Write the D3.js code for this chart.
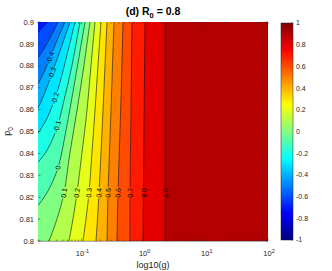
<!DOCTYPE html>
<html>
<head>
<meta charset="utf-8">
<script src="https://cdn.jsdelivr.net/npm/d3@7"></script>
<style>
  body { margin: 0; background: #fff; }
  svg { display: block; font-family: "Liberation Sans", Arial, sans-serif; }
</style>
</head>
<body>
<svg id="chart" width="332" height="271"></svg>
<script>
/*********************
	Data
**********************/
// contour levels of the filled plot (band colour = its lower level)
var levels = [-0.6, -0.5, -0.4, -0.3, -0.2, -0.1, 0, 0.1, 0.2, 0.3, 0.4, 0.5, 0.6, 0.7, 0.8, 0.9];
var lowestBand = -0.7;

// contour lines as [g, p0], from the top edge downward
var line_m06 = [[0.0290, 0.900], [0.0250, 0.8982], [0.0223, 0.8968], [0.0200, 0.8950]];
var line_m05 = [[0.0420, 0.900], [0.0336, 0.8945], [0.0269, 0.8894], [0.0200, 0.8835]];
var line_m04 = [[0.0544, 0.900], [0.0420, 0.8927], [0.0349, 0.8872], [0.0312, 0.8835], [0.0250, 0.8771], [0.0200, 0.8716]];
var line_m03 = [[0.0654, 0.900], [0.0486, 0.8894], [0.0390, 0.8817], [0.0336, 0.8766], [0.0259, 0.8679], [0.0200, 0.8606]];
var line_m02 = [[0.0787, 0.900], [0.0585, 0.8849], [0.0452, 0.8725], [0.0375, 0.8651], [0.0279, 0.8560], [0.0200, 0.8491]];
var line_m01 = [[0.0947, 0.900], [0.0705, 0.8803], [0.0524, 0.8642], [0.0404, 0.8518], [0.0290, 0.8422], [0.0200, 0.8358]];
var line_00  = [[0.1140, 0.900], [0.0787, 0.8734], [0.0564, 0.8505], [0.0420, 0.8335], [0.0290, 0.8229], [0.0200, 0.8161]];
var line_01  = [[0.1372, 0.900], [0.1098, 0.8803], [0.0848, 0.8596], [0.0654, 0.8404], [0.0524, 0.8220], [0.0404, 0.8101], [0.0301, 0.800]];
var line_02  = [[0.1651, 0.900], [0.1424, 0.8803], [0.1227, 0.8596], [0.1020, 0.8404], [0.0848, 0.8220], [0.0731, 0.8101], [0.0630, 0.800]];
var line_03  = [[0.2061, 0.900], [0.1845, 0.8803], [0.1651, 0.8596], [0.1477, 0.8404], [0.1322, 0.8220], [0.1183, 0.8101], [0.1059, 0.800]];
var line_04  = [[0.2574, 0.900], [0.2390, 0.8803], [0.2220, 0.8596], [0.2061, 0.8404], [0.1914, 0.8220], [0.1811, 0.8101], [0.1713, 0.800]];
var line_05  = [[0.3337, 0.900], [0.3155, 0.8803], [0.2985, 0.8596], [0.2823, 0.8404], [0.2671, 0.8220], [0.2574, 0.800]];
var line_06  = [[0.4656, 0.900], [0.4405, 0.8734], [0.4167, 0.8505], [0.3869, 0.8220], [0.3728, 0.800]];
var line_07  = [[0.6497, 0.900], [0.6262, 0.8596], [0.6035, 0.8220], [0.6035, 0.800]];
var line_08  = [[1.051, 0.900], [1.013, 0.8505], [0.976, 0.800]];
var line_09  = [[2.205, 0.900], [2.205, 0.800]];
var contourLines = [line_m06, line_m05, line_m04, line_m03, line_m02, line_m01, line_00,
                    line_01, line_02, line_03, line_04, line_05, line_06, line_07, line_08, line_09];

// inline contour labels
var labelLevels = [-0.4, -0.3, -0.2, -0.1, 0, 0.1, 0.2, 0.3, 0.4, 0.5, 0.6, 0.7, 0.8, 0.9];
var labelG = [0.0312, 0.0336, 0.0375, 0.0404, 0.0420, 0.0524, 0.0848, 0.1322, 0.1914, 0.2671, 0.3869, 0.6035, 1.013, 2.205];
var labelP = [0.8837, 0.8766, 0.8651, 0.8523, 0.8335, 0.8220, 0.8220, 0.8220, 0.8220, 0.8220, 0.8220, 0.8220, 0.8220, 0.8220];
var flippedLabels = [0.8, 0.9];

var yTicks = [0.8, 0.81, 0.82, 0.83, 0.84, 0.85, 0.86, 0.87, 0.88, 0.89, 0.9];
var xTicks = [0.1, 1, 10, 100];
var xTickExp = ["-1", "0", "1", "2"];
var cbTicks = [-1, -0.8, -0.6, -0.4, -0.2, 0, 0.2, 0.4, 0.6, 0.8, 1];

/*********************
	Setup
**********************/
var plotLeft = 38, plotRight = 268, plotTop = 22, plotBottom = 241;
var cbLeft = 281, cbRight = 293, cbTop = 23, cbBottom = 240;
var axisColor = "#262626";

var x = d3.scaleLog().domain([0.02, 100]).range([plotLeft, plotRight]);
var y = d3.scaleLinear().domain([0.8, 0.9]).range([plotBottom, plotTop]);
var cbY = d3.scaleLinear().domain([-1, 1]).range([cbBottom, cbTop]);

function clamp(v) { return Math.max(0, Math.min(1, v)); }
function jet(t) {
	var r = clamp(Math.min(4 * t - 1.5, -4 * t + 4.5));
	var g = clamp(Math.min(4 * t - 0.5, -4 * t + 3.5));
	var b = clamp(Math.min(4 * t + 0.5, -4 * t + 2.5));
	return d3.rgb(r * 255, g * 255, b * 255).formatHex();
}
var color = d3.scaleSequential(jet).domain([-1, 1]);
// colour of a filled band: colormap value at its lower level
function bandColor(lv) { return color(lv); }

var svg = d3.select("#chart");
var defs = svg.append("defs");

defs.append("clipPath").attr("id", "plotClip")
	.append("rect")
	.attr("x", plotLeft).attr("y", plotTop)
	.attr("width", plotRight - plotLeft).attr("height", plotBottom - plotTop);

/*********************
	Filled contours
**********************/
var plot = svg.append("g").attr("clip-path", "url(#plotClip)");

plot.append("rect")
	.attr("x", plotLeft).attr("y", plotTop)
	.attr("width", plotRight - plotLeft).attr("height", plotBottom - plotTop)
	.attr("fill", bandColor(lowestBand));

var lineGen = d3.line()
	.x(function(d) { return x(d[0]); })
	.y(function(d) { return y(d[1]); })
	.curve(d3.curveCatmullRom.alpha(0.5));

levels.forEach(function(lv, i) {
	var pts = contourLines[i];
	var d = lineGen(pts);
	var last = pts[pts.length - 1];
	if (last[1] > 0.8001) d += "L" + (plotLeft - 2) + "," + y(last[1]) + "L" + (plotLeft - 2) + "," + (plotBottom + 2);
	else d += "L" + x(last[0]) + "," + (plotBottom + 2);
	d += "L" + (plotRight + 2) + "," + (plotBottom + 2) + "L" + (plotRight + 2) + "," + (plotTop - 2);
	d += "L" + x(pts[0][0]) + "," + (plotTop - 2) + "Z";
	plot.append("path").attr("d", d).attr("fill", bandColor(lv));
});

/*********************
	Contour lines + labels
**********************/
var mask = defs.append("mask").attr("id", "labelMask")
	.attr("maskUnits", "userSpaceOnUse")
	.attr("x", 0).attr("y", 0).attr("width", 332).attr("height", 271);
mask.append("rect").attr("x", 0).attr("y", 0).attr("width", 332).attr("height", 271).attr("fill", "white");

var lineLayer = plot.append("g").attr("mask", "url(#labelMask)");
contourLines.forEach(function(pts) {
	lineLayer.append("path")
		.attr("d", lineGen(pts))
		.attr("fill", "none")
		.attr("stroke", "#111")
		.attr("stroke-width", 0.6);
});

function labelAngle(pts, py) {
	var px = pts.map(function(d) { return [x(d[0]), y(d[1])]; });
	var seg = 0;
	for (var i = 0; i < px.length - 1; i++) {
		if (py >= px[i][1] && py <= px[i + 1][1]) { seg = i; break; }
	}
	var dx = px[seg + 1][0] - px[seg][0];
	var dy = px[seg + 1][1] - px[seg][1];
	return Math.atan2(-dy, -dx) * 180 / Math.PI;
}

var labelLayer = svg.append("g");
labelLevels.forEach(function(lv, i) {
	var pts = contourLines[levels.indexOf(lv)];
	var cx = x(labelG[i]), cy = y(labelP[i]);
	var ang = labelAngle(pts, cy);
	if (flippedLabels.indexOf(lv) >= 0) ang += 180;
	var t = labelLayer.append("text")
		.attr("transform", "translate(" + cx + "," + cy + ") rotate(" + ang + ")")
		.attr("text-anchor", "middle")
		.attr("dy", "0.35em")
		.attr("font-size", 7)
		.attr("fill", "#000")
		.text(String(lv));
	var w = t.node().getComputedTextLength() + 2;
	mask.append("rect")
		.attr("x", -w / 2).attr("y", -3.5)
		.attr("width", w).attr("height", 7)
		.attr("transform", "translate(" + cx + "," + cy + ") rotate(" + ang + ")")
		.attr("fill", "black");
});

/*********************
	Axes
**********************/
var axes = svg.append("g")
	.attr("stroke", axisColor).attr("stroke-width", 0.5).attr("fill", "none");

axes.append("line")
	.attr("x1", plotLeft).attr("x2", plotRight)
	.attr("y1", plotBottom + 0.25).attr("y2", plotBottom + 0.25);

// y ticks (inward, both sides)
yTicks.forEach(function(v) {
	axes.append("line").attr("x1", plotLeft).attr("x2", plotLeft + 2.5).attr("y1", y(v)).attr("y2", y(v));
	axes.append("line").attr("x1", plotRight).attr("x2", plotRight - 2.5).attr("y1", y(v)).attr("y2", y(v));
});

// x major ticks
xTicks.forEach(function(v) {
	axes.append("line").attr("x1", x(v)).attr("x2", x(v)).attr("y1", plotBottom).attr("y2", plotBottom - 2.5);
	axes.append("line").attr("x1", x(v)).attr("x2", x(v)).attr("y1", plotTop).attr("y2", plotTop + 2.5);
});

// x minor ticks
x.ticks().filter(function(v) { return xTicks.indexOf(v) < 0; }).forEach(function(v) {
	axes.append("line").attr("x1", x(v)).attr("x2", x(v)).attr("y1", plotBottom).attr("y2", plotBottom - 1.5);
	axes.append("line").attr("x1", x(v)).attr("x2", x(v)).attr("y1", plotTop).attr("y2", plotTop + 1.5);
});

var textLayer = svg.append("g").attr("fill", axisColor);

yTicks.forEach(function(v) {
	textLayer.append("text")
		.attr("x", plotLeft - 4).attr("y", y(v))
		.attr("dy", "0.35em")
		.attr("text-anchor", "end")
		.attr("font-size", 7.5)
		.text(String(+v.toFixed(2)));
});

xTicks.forEach(function(v, i) {
	var t = textLayer.append("text")
		.attr("x", x(v) + 1).attr("y", plotBottom + 15)
		.attr("text-anchor", "middle")
		.attr("font-size", 7.5);
	t.append("tspan").text("10");
	t.append("tspan").attr("dy", -3.5).attr("font-size", 5.5).text(xTickExp[i]);
});

textLayer.append("text")
	.attr("x", (plotLeft + plotRight) / 2).attr("y", 268)
	.attr("text-anchor", "middle")
	.attr("font-size", 9)
	.text("log10(g)");

var yl = textLayer.append("text")
	.attr("transform", "translate(10," + ((plotTop + plotBottom) / 2) + ") rotate(-90)")
	.attr("text-anchor", "middle")
	.attr("font-size", 9);
yl.append("tspan").text("p");
yl.append("tspan").attr("dy", 2.5).attr("font-size", 6.5).text("0");

var title = svg.append("text")
	.attr("x", (plotLeft + plotRight) / 2).attr("y", 15)
	.attr("text-anchor", "middle")
	.attr("font-size", 10.5)
	.attr("font-weight", "bold")
	.attr("fill", "#000");
title.append("tspan").text("(d) R");
title.append("tspan").attr("dy", 2.5).attr("font-size", 7.5).text("0");
title.append("tspan").attr("dy", -2.5).text(" = 0.8");

/*********************
	Colorbar
**********************/
var grad = defs.append("linearGradient").attr("id", "jetGrad")
	.attr("x1", "0%").attr("y1", "100%").attr("x2", "0%").attr("y2", "0%");
d3.range(0, 65).forEach(function(i) {
	var t = i / 64;
	grad.append("stop").attr("offset", (t * 100) + "%").attr("stop-color", color(-1 + 2 * t));
});

svg.append("rect")
	.attr("x", cbLeft).attr("y", cbTop)
	.attr("width", cbRight - cbLeft).attr("height", cbBottom - cbTop)
	.attr("fill", "url(#jetGrad)")
	.attr("stroke", axisColor).attr("stroke-width", 0.5);

cbTicks.forEach(function(v) {
	axes.append("line").attr("x1", cbRight).attr("x2", cbRight - 2).attr("y1", cbY(v)).attr("y2", cbY(v));
	textLayer.append("text")
		.attr("x", cbRight + 3).attr("y", cbY(v))
		.attr("dy", "0.35em")
		.attr("font-size", 7)
		.text(String(+v.toFixed(1)));
});
</script>
</body>
</html>
